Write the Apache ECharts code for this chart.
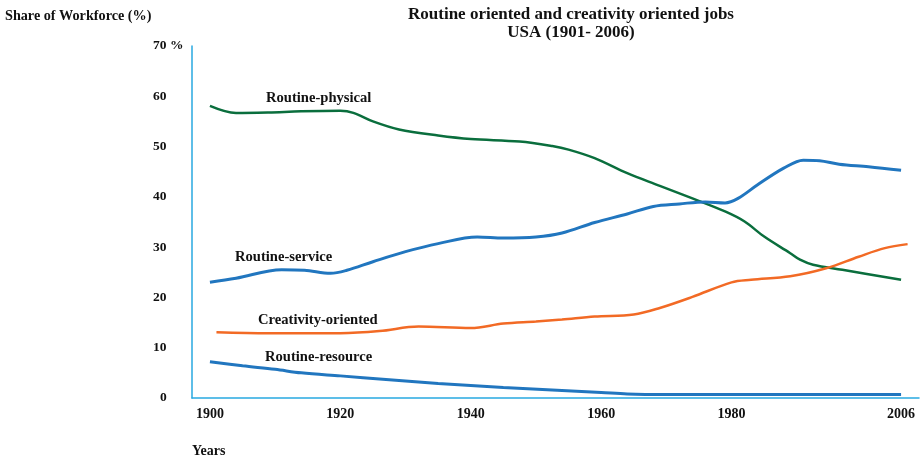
<!DOCTYPE html>
<html>
<head>
<meta charset="utf-8">
<script src="https://cdn.jsdelivr.net/npm/echarts@6/dist/echarts.min.js"></script>
<style>
html,body{margin:0;padding:0;background:#fff;}
#chart{width:920px;height:460px;}
</style>
</head>
<body>
<div id="chart"></div>
<script>
// ---- data ----
var physicalYears  = [1900, 1904, 1909, 1914, 1920, 1922, 1925, 1929, 1935, 1940, 1947.5, 1952.5, 1955, 1959, 1964, 1969, 1974, 1979, 1982, 1985, 1989, 1990.5, 1992.5, 1997, 2006];
var physicalValues = [58.1, 56.7, 56.8, 57.0, 57.1, 56.7, 55.0, 53.4, 52.2, 51.5, 51.0, 50.1, 49.4, 47.7, 44.7, 42.2, 39.7, 37.1, 35.1, 32.1, 28.8, 27.5, 26.5, 25.5, 23.5];

var serviceYears  = [1900, 1904, 1911, 1914.5, 1918.5, 1921, 1925, 1930, 1935, 1941, 1945, 1950, 1954, 1959, 1964, 1968, 1972, 1976, 1979, 1981, 1984, 1988, 1991, 1993.5, 1996.5, 2001, 2006];
var serviceValues = [23.0, 23.8, 25.5, 25.4, 24.8, 25.4, 27.1, 29.1, 30.7, 32.0, 31.8, 32.0, 32.8, 34.9, 36.6, 38.1, 38.6, 39.0, 38.8, 39.7, 42.4, 45.7, 47.3, 47.2, 46.5, 46.0, 45.3];

var creativityYears  = [1901, 1909, 1920, 1926, 1932, 1940, 1945, 1950, 1954, 1959, 1965, 1969, 1974, 1980, 1983, 1989, 1994.5, 1999.5, 2003.5, 2007];
var creativityValues = [13.1, 12.9, 12.9, 13.3, 14.2, 13.9, 14.8, 15.2, 15.6, 16.2, 16.6, 17.9, 20.1, 23.0, 23.5, 24.2, 25.8, 28.1, 29.8, 30.6];

var resourceYears  = [1900, 1905, 1910, 1914, 1920, 1927, 1935, 1945, 1954, 1960, 1964, 1970, 1990, 2006];
var resourceValues = [7.2, 6.4, 5.7, 5.0, 4.4, 3.7, 2.9, 2.1, 1.5, 1.1, 0.8, 0.7, 0.7, 0.7];

var xTickLabels = [1900, 1920, 1940, 1960, 1980, 2006];
var yTickValues = [0, 10, 20, 30, 40, 50, 60, 70];

var seriesNames = ['Routine-physical', 'Routine-service', 'Creativity-oriented', 'Routine-resource'];

function pairs(xs, ys) { return xs.map(function (x, i) { return [x, ys[i]]; }); }

var FONT = '"Liberation Serif", "DejaVu Serif", serif';
var AXIS_COLOR = '#29a9e1';
var GREEN = '#0a6e3d';
var BLUE = '#2176bf';
var ORANGE = '#f26a25';

var chart = echarts.init(document.getElementById('chart'), null, {renderer: 'canvas'});

function lineSeries(name, data, color, width) {
  return {
    name: name,
    type: 'line',
    data: data,
    smooth: 0.35,
    showSymbol: false,
    symbol: 'none',
    lineStyle: {color: color, width: width},
    itemStyle: {color: color},
    animation: false,
    z: 3
  };
}

function txt(text, x, y, size, align) {
  return {
    type: 'text',
    x: x, y: y,
    style: {
      text: text,
      fill: '#111',
      font: 'bold ' + size + 'px ' + FONT,
      textAlign: align || 'left',
      textVerticalAlign: 'middle'
    },
    z: 10
  };
}

var option = {
  backgroundColor: '#ffffff',
  animation: false,
  grid: {left: 192, right: 1, top: 46, bottom: 62},
  xAxis: {
    type: 'value',
    min: 1897.25,
    max: 2008.75,
    splitLine: {show: false},
    axisTick: {show: false},
    axisLine: {show: true, onZero: false, lineStyle: {color: AXIS_COLOR, width: 1.5}},
    axisLabel: {
      customValues: xTickLabels,
      margin: 9,
      color: '#111',
      fontFamily: FONT,
      fontWeight: 'bold',
      fontSize: 14,
      formatter: function (v) { return String(v); }
    }
  },
  yAxis: {
    type: 'value',
    min: 0,
    max: 70,
    interval: 10,
    splitLine: {show: false},
    axisTick: {show: false},
    axisLine: {show: true, lineStyle: {color: AXIS_COLOR, width: 1.5}},
    axisLabel: {
      customValues: yTickValues,
      align: 'left',
      margin: 39,
      color: '#111',
      fontFamily: FONT,
      fontWeight: 'bold',
      fontSize: 13.5,
      formatter: function (v) {
        if (v === 70) return '70 %';
        if (v === 0) return '{z|0}';
        return String(v);
      },
      rich: {
        z: {padding: [0, 0, 0, 7], fontFamily: FONT, fontWeight: 'bold', fontSize: 13.5, color: '#111'}
      }
    }
  },
  series: [
    lineSeries(seriesNames[0], pairs(physicalYears, physicalValues), GREEN, 2.5),
    lineSeries(seriesNames[1], pairs(serviceYears, serviceValues), BLUE, 3),
    lineSeries(seriesNames[2], pairs(creativityYears, creativityValues), ORANGE, 2.5),
    lineSeries(seriesNames[3], pairs(resourceYears, resourceValues), BLUE, 3)
  ],
  graphic: [
    txt('Share of Workforce (%)', 5, 16, 14.2),
    txt('Routine oriented and creativity oriented jobs', 571, 15, 17, 'center'),
    txt('USA (1901- 2006)', 571, 33, 17, 'center'),
    txt('Years', 192, 451, 14),
    txt(seriesNames[0], 266, 98, 14.6),
    txt(seriesNames[1], 235, 257, 14.6),
    txt(seriesNames[2], 258, 320, 14.6),
    txt(seriesNames[3], 265, 357, 14.6)
  ]
};

chart.setOption(option);
</script>
</body>
</html>
